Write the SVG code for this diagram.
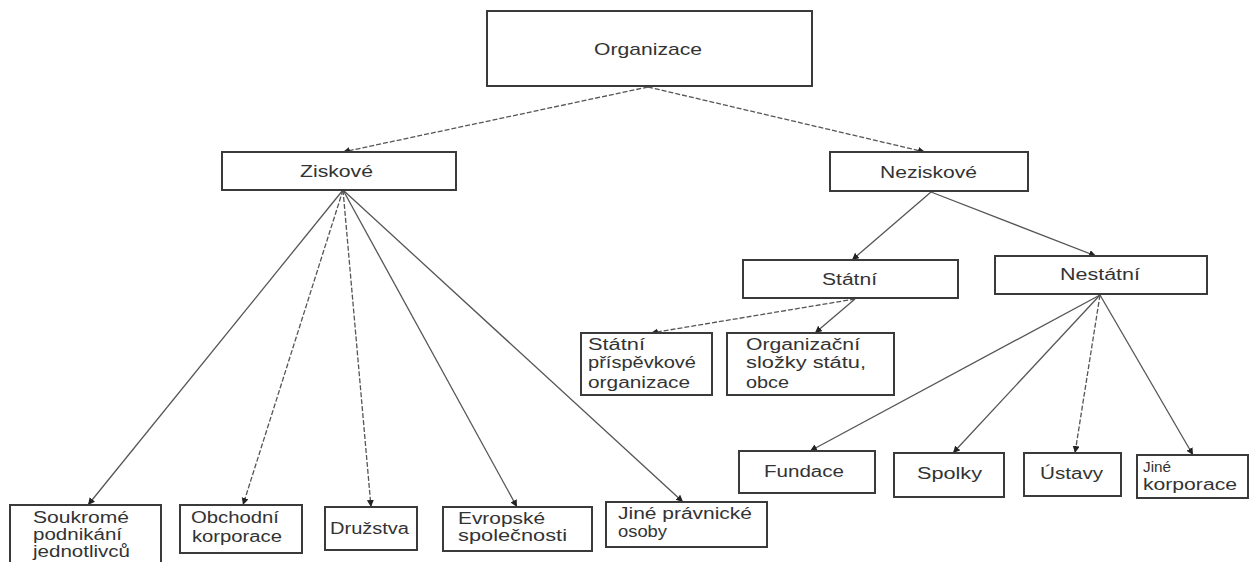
<svg xmlns="http://www.w3.org/2000/svg" width="1254" height="562" viewBox="0 0 1254 562">
<style>
.box{fill:#fff;stroke:#3a3a3a;stroke-width:2}
.t{font-family:"Liberation Sans",Arial,sans-serif;font-size:16px;fill:#333}
.c{text-anchor:middle}
.ln{stroke:#555;stroke-width:1.3;fill:none;marker-end:url(#ah)}
.d{stroke-dasharray:5 2}
</style>
<defs>
<marker id="ah" markerUnits="userSpaceOnUse" markerWidth="8" markerHeight="8" refX="7" refY="3.5" orient="auto">
<path d="M0,0 L7,3.5 L0,7 z" fill="#222"/>
</marker>
</defs>
<rect width="1254" height="562" fill="#fff"/>
<g id="connectors">
<line class="ln d" x1="648" y1="87" x2="343" y2="152"/>
<line class="ln d" x1="648" y1="87" x2="925" y2="152"/>
<line class="ln" x1="343" y1="190" x2="88" y2="505"/>
<line class="ln d" x1="343" y1="190" x2="243" y2="505"/>
<line class="ln d" x1="343" y1="190" x2="371" y2="507"/>
<line class="ln" x1="343" y1="190" x2="517" y2="507"/>
<line class="ln" x1="343" y1="190" x2="683" y2="502"/>
<line class="ln" x1="931" y1="192" x2="852" y2="260"/>
<line class="ln" x1="931" y1="192" x2="1096" y2="256"/>
<line class="ln d" x1="855" y1="299" x2="651" y2="333"/>
<line class="ln" x1="855" y1="299" x2="815" y2="333"/>
<line class="ln" x1="1100" y1="295" x2="810" y2="451"/>
<line class="ln" x1="1100" y1="295" x2="953" y2="453"/>
<line class="ln d" x1="1100" y1="295" x2="1075" y2="453"/>
<line class="ln" x1="1100" y1="295" x2="1193" y2="455"/>
</g>
<g id="organizace">
<rect class="box" x="487" y="11" width="325" height="75"/>
<text class="t" x="594" y="55" textLength="108" lengthAdjust="spacingAndGlyphs" style="font-size:17px">Organizace</text>
</g>
<g id="ziskove">
<rect class="box" x="222" y="152" width="234" height="38"/>
<text class="t" x="300" y="177" textLength="73" lengthAdjust="spacingAndGlyphs">Ziskové</text>
</g>
<g id="neziskove">
<rect class="box" x="830" y="152" width="198" height="39"/>
<text class="t" x="880" y="178" textLength="97" lengthAdjust="spacingAndGlyphs">Neziskové</text>
</g>
<g id="statni">
<rect class="box" x="743" y="260" width="215" height="38"/>
<text class="t" x="822" y="285" textLength="55" lengthAdjust="spacingAndGlyphs">Státní</text>
</g>
<g id="nestatni">
<rect class="box" x="995" y="256" width="212" height="38"/>
<text class="t" x="1060" y="280" textLength="80" lengthAdjust="spacingAndGlyphs">Nestátní</text>
</g>
<g id="statni-prispevkove">
<rect class="box" x="581" y="333" width="131" height="62"/>
<text class="t" x="588" y="350" textLength="57" lengthAdjust="spacingAndGlyphs">Státní</text>
<text class="t" x="588" y="368" textLength="108" lengthAdjust="spacingAndGlyphs">příspěvkové</text>
<text class="t" x="588" y="388" textLength="102" lengthAdjust="spacingAndGlyphs">organizace</text>
</g>
<g id="organizacni-slozky">
<rect class="box" x="727" y="333" width="167" height="62"/>
<text class="t" x="746" y="350" textLength="114" lengthAdjust="spacingAndGlyphs">Organizační</text>
<text class="t" x="746" y="368" textLength="120" lengthAdjust="spacingAndGlyphs">složky státu,</text>
<text class="t" x="746" y="388" textLength="43" lengthAdjust="spacingAndGlyphs">obce</text>
</g>
<g id="fundace">
<rect class="box" x="739" y="451" width="136" height="42"/>
<text class="t" x="764" y="477" textLength="80" lengthAdjust="spacingAndGlyphs">Fundace</text>
</g>
<g id="spolky">
<rect class="box" x="894" y="453" width="110" height="44"/>
<text class="t" x="917" y="479" textLength="65" lengthAdjust="spacingAndGlyphs">Spolky</text>
</g>
<g id="ustavy">
<rect class="box" x="1024" y="453" width="97" height="43"/>
<text class="t" x="1040" y="479" textLength="63" lengthAdjust="spacingAndGlyphs">Ústavy</text>
</g>
<g id="jine-korporace">
<rect class="box" x="1137" y="455" width="111" height="43"/>
<text class="t" x="1143" y="472" textLength="28" lengthAdjust="spacingAndGlyphs" style="font-size:14px">Jiné</text>
<text class="t" x="1143" y="490" textLength="94" lengthAdjust="spacingAndGlyphs">korporace</text>
</g>
<g id="soukrome">
<rect class="box" x="10" y="505" width="151" height="70"/>
<text class="t" x="33" y="523" textLength="96" lengthAdjust="spacingAndGlyphs">Soukromé</text>
<text class="t" x="33" y="540" textLength="89" lengthAdjust="spacingAndGlyphs">podnikání</text>
<text class="t" x="33" y="557" textLength="97" lengthAdjust="spacingAndGlyphs">jednotlivců</text>
</g>
<g id="obchodni">
<rect class="box" x="180" y="505" width="122" height="48"/>
<text class="t" x="191" y="523" textLength="88" lengthAdjust="spacingAndGlyphs">Obchodní</text>
<text class="t" x="192" y="542" textLength="90" lengthAdjust="spacingAndGlyphs">korporace</text>
</g>
<g id="druzstva">
<rect class="box" x="325" y="507" width="92" height="43"/>
<text class="t" x="330" y="534" textLength="79" lengthAdjust="spacingAndGlyphs">Družstva</text>
</g>
<g id="evropske">
<rect class="box" x="443" y="507" width="149" height="44"/>
<text class="t" x="458" y="524" textLength="87" lengthAdjust="spacingAndGlyphs">Evropské</text>
<text class="t" x="458" y="541" textLength="109" lengthAdjust="spacingAndGlyphs">společnosti</text>
</g>
<g id="jine-pravnicke">
<rect class="box" x="606" y="502" width="161" height="45"/>
<text class="t" x="618" y="519" textLength="134" lengthAdjust="spacingAndGlyphs">Jiné právnické</text>
<text class="t" x="618" y="537" textLength="49" lengthAdjust="spacingAndGlyphs">osoby</text>
</g>
</svg>
